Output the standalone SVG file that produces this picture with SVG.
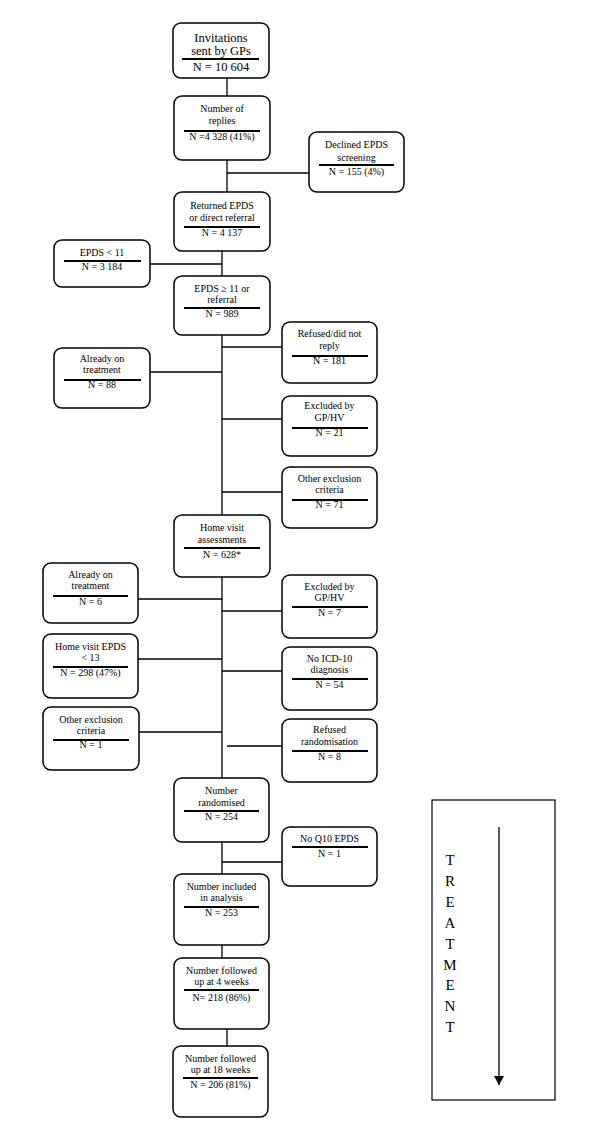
<svg xmlns="http://www.w3.org/2000/svg" width="600" height="1133" viewBox="0 0 600 1133">
<style>
.box{fill:#fff;stroke:#000;stroke-width:1.5}
.bar{stroke:#000;stroke-width:2.2}
.c{stroke:#000;stroke-width:1.3;fill:none}
text{font-family:"Liberation Serif","Times New Roman",serif;font-size:10px;fill:#000;text-anchor:middle}
.big{font-size:12.5px}
.tr{font-size:15px}
</style>
<defs>
<marker id="ah" markerWidth="10" markerHeight="10" refX="9" refY="5" orient="auto" markerUnits="userSpaceOnUse">
<path d="M0,0 L9,5 L0,10 Z" fill="#000"/>
</marker>
</defs>
<rect width="600" height="1133" fill="#fff"/>
<g id="connectors">
<line class="c" x1="227" y1="78" x2="227" y2="96"/>
<line class="c" x1="227" y1="160" x2="227" y2="192"/>
<line class="c" x1="227" y1="173" x2="309" y2="173"/>
<line class="c" x1="222" y1="251" x2="222" y2="276"/>
<line class="c" x1="150" y1="264" x2="222" y2="264"/>
<line class="c" x1="222" y1="335" x2="222" y2="515"/>
<line class="c" x1="222" y1="347" x2="282" y2="347"/>
<line class="c" x1="150" y1="372" x2="222" y2="372"/>
<line class="c" x1="222" y1="419" x2="282" y2="419"/>
<line class="c" x1="222" y1="492" x2="282" y2="492"/>
<line class="c" x1="222" y1="577" x2="222" y2="778"/>
<line class="c" x1="138" y1="599" x2="222" y2="599"/>
<line class="c" x1="222" y1="611" x2="282" y2="611"/>
<line class="c" x1="138" y1="659" x2="222" y2="659"/>
<line class="c" x1="222" y1="671" x2="282" y2="671"/>
<line class="c" x1="139" y1="732" x2="222" y2="732"/>
<line class="c" x1="227" y1="746" x2="282" y2="746"/>
<line class="c" x1="222" y1="842" x2="222" y2="874"/>
<line class="c" x1="222" y1="862" x2="282" y2="862"/>
<line class="c" x1="222" y1="945" x2="222" y2="958"/>
<line class="c" x1="227" y1="1029" x2="227" y2="1046"/>
</g>
<g id="n1">
<rect class="box" x="173" y="23" width="96" height="55" rx="8"/>
<text class="big" x="221" y="42">Invitations</text>
<text class="big" x="221" y="55">sent by GPs</text>
<line class="bar" x1="182" y1="59" x2="259" y2="59"/>
<text class="big" x="221" y="71">N = 10 604</text>
</g>
<g id="n2">
<rect class="box" x="174" y="96" width="96" height="64" rx="8"/>
<text x="222" y="112">Number of</text>
<text x="222" y="124">replies</text>
<line class="bar" x1="184" y1="131" x2="260" y2="131"/>
<text x="222" y="140">N =4 328 (41%)</text>
</g>
<g id="n_declined">
<rect class="box" x="309" y="132" width="95" height="60" rx="8"/>
<text x="356.5" y="148">Declined EPDS</text>
<text x="356.5" y="161">screening</text>
<line class="bar" x1="319" y1="165" x2="394" y2="165"/>
<text x="356.5" y="175">N = 155 (4%)</text>
</g>
<g id="n3">
<rect class="box" x="174" y="192" width="96" height="59" rx="8"/>
<text x="222" y="209">Returned EPDS</text>
<text x="222" y="221">or direct referral</text>
<line class="bar" x1="184" y1="227" x2="260" y2="227"/>
<text x="222" y="236">N = 4 137</text>
</g>
<g id="n_epds11">
<rect class="box" x="54" y="240" width="96" height="47" rx="8"/>
<text x="102" y="256">EPDS &lt; 11</text>
<line class="bar" x1="64" y1="261" x2="141" y2="261"/>
<text x="102" y="270">N = 3 184</text>
</g>
<g id="n4">
<rect class="box" x="174" y="276" width="96" height="59" rx="8"/>
<text x="222" y="292">EPDS ≥ 11 or</text>
<text x="222" y="303">referral</text>
<line class="bar" x1="184" y1="308" x2="260" y2="308"/>
<text x="222" y="317">N = 989</text>
</g>
<g id="n_refused">
<rect class="box" x="282" y="322" width="95" height="61" rx="8"/>
<text x="329.5" y="337">Refused/did not</text>
<text x="329.5" y="349">reply</text>
<line class="bar" x1="292" y1="356" x2="368" y2="356"/>
<text x="329.5" y="364">N = 181</text>
</g>
<g id="n_already1">
<rect class="box" x="54" y="348" width="96" height="60" rx="8"/>
<text x="102" y="362">Already on</text>
<text x="102" y="373">treatment</text>
<line class="bar" x1="64" y1="380" x2="141" y2="380"/>
<text x="102" y="388">N = 88</text>
</g>
<g id="n_excluded1">
<rect class="box" x="282" y="396" width="95" height="60" rx="8"/>
<text x="329.5" y="409">Excluded by</text>
<text x="329.5" y="421">GP/HV</text>
<line class="bar" x1="292" y1="428" x2="368" y2="428"/>
<text x="329.5" y="436">N = 21</text>
</g>
<g id="n_other1">
<rect class="box" x="282" y="467" width="95" height="61" rx="8"/>
<text x="329.5" y="482">Other exclusion</text>
<text x="329.5" y="493">criteria</text>
<line class="bar" x1="292" y1="500" x2="368" y2="500"/>
<text x="329.5" y="508">N = 71</text>
</g>
<g id="n_home">
<rect class="box" x="174" y="515" width="96" height="62" rx="8"/>
<text x="222" y="531">Home visit</text>
<text x="222" y="543">assessments</text>
<line class="bar" x1="184" y1="548" x2="260" y2="548"/>
<text x="222" y="558">N = 628*</text>
</g>
<g id="n_already2">
<rect class="box" x="43" y="563" width="95" height="60" rx="8"/>
<text x="90.5" y="578">Already on</text>
<text x="90.5" y="589">treatment</text>
<line class="bar" x1="53" y1="596" x2="128" y2="596"/>
<text x="90.5" y="605">N = 6</text>
</g>
<g id="n_excluded2">
<rect class="box" x="282" y="575" width="95" height="63" rx="8"/>
<text x="329.5" y="590">Excluded by</text>
<text x="329.5" y="601">GP/HV</text>
<line class="bar" x1="292" y1="607" x2="368" y2="607"/>
<text x="329.5" y="616">N = 7</text>
</g>
<g id="n_hv13">
<rect class="box" x="43" y="634" width="95" height="64" rx="8"/>
<text x="90.5" y="650">Home visit EPDS</text>
<text x="90.5" y="661">&lt; 13</text>
<line class="bar" x1="53" y1="667" x2="128" y2="667"/>
<text x="90.5" y="676">N = 298 (47%)</text>
</g>
<g id="n_icd">
<rect class="box" x="282" y="647" width="95" height="63" rx="8"/>
<text x="329.5" y="662">No ICD-10</text>
<text x="329.5" y="673">diagnosis</text>
<line class="bar" x1="292" y1="679" x2="368" y2="679"/>
<text x="329.5" y="688">N = 54</text>
</g>
<g id="n_other2">
<rect class="box" x="43" y="707" width="96" height="63" rx="8"/>
<text x="91" y="723">Other exclusion</text>
<text x="91" y="734">criteria</text>
<line class="bar" x1="53" y1="740" x2="129" y2="740"/>
<text x="91" y="748">N = 1</text>
</g>
<g id="n_refrand">
<rect class="box" x="282" y="719" width="95" height="63" rx="8"/>
<text x="329.5" y="733">Refused</text>
<text x="329.5" y="745">randomisation</text>
<line class="bar" x1="292" y1="751" x2="368" y2="751"/>
<text x="329.5" y="760">N = 8</text>
</g>
<g id="n_rand">
<rect class="box" x="174" y="778" width="95" height="64" rx="8"/>
<text x="221.5" y="794">Number</text>
<text x="221.5" y="806">randomised</text>
<line class="bar" x1="184" y1="811" x2="259" y2="811"/>
<text x="221.5" y="820">N = 254</text>
</g>
<g id="n_q10">
<rect class="box" x="282" y="827" width="95" height="59" rx="8"/>
<text x="329.5" y="842">No Q10 EPDS</text>
<line class="bar" x1="292" y1="847" x2="368" y2="847"/>
<text x="329.5" y="857">N = 1</text>
</g>
<g id="n_incl">
<rect class="box" x="174" y="874" width="95" height="71" rx="8"/>
<text x="221.5" y="890">Number included</text>
<text x="221.5" y="901">in analysis</text>
<line class="bar" x1="184" y1="907" x2="259" y2="907"/>
<text x="221.5" y="916">N = 253</text>
</g>
<g id="n_4wk">
<rect class="box" x="174" y="958" width="95" height="71" rx="8"/>
<text x="221.5" y="974">Number followed</text>
<text x="221.5" y="985">up at 4 weeks</text>
<line class="bar" x1="184" y1="990" x2="259" y2="990"/>
<text x="221.5" y="1001">N= 218 (86%)</text>
</g>
<g id="n_18wk">
<rect class="box" x="173" y="1046" width="95" height="71" rx="8"/>
<text x="220.5" y="1062">Number followed</text>
<text x="220.5" y="1073">up at 18 weeks</text>
<line class="bar" x1="183" y1="1078" x2="258" y2="1078"/>
<text x="220.5" y="1088">N = 206 (81%)</text>
</g>
<g id="treatment">
<rect x="432" y="800" width="123" height="300" fill="#fff" stroke="#000" stroke-width="1.2"/>
<line x1="499" y1="827" x2="499" y2="1085" stroke="#000" stroke-width="1.3" marker-end="url(#ah)"/>
<text class="tr" x="450" y="865">T</text>
<text class="tr" x="450" y="886">R</text>
<text class="tr" x="450" y="907">E</text>
<text class="tr" x="450" y="928">A</text>
<text class="tr" x="450" y="949">T</text>
<text class="tr" x="450" y="970">M</text>
<text class="tr" x="450" y="990">E</text>
<text class="tr" x="450" y="1011">N</text>
<text class="tr" x="450" y="1032">T</text>
</g>
</svg>
